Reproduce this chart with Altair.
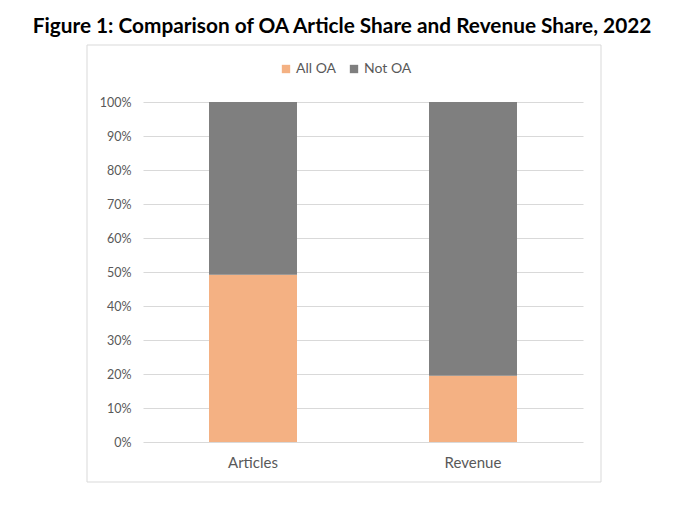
import altair as alt
import pandas as pd

categories = ["Articles", "Revenue"]
series = ["All OA", "Not OA"]
all_oa = [0.492, 0.195]
not_oa = [0.508, 0.805]
colors = ["#F4B183", "#7F7F7F"]

rows = []
for i, c in enumerate(categories):
    rows.append({"cat": c, "series": "All OA", "value": all_oa[i], "ord": 0})
    rows.append({"cat": c, "series": "Not OA", "value": not_oa[i], "ord": 1})
df = pd.DataFrame(rows)

FONT = "Lato"

border = alt.Chart(pd.DataFrame({"a": [0]})).mark_rect(
    fill=None, stroke="#D9D9D9", strokeWidth=1, clip=False
).encode(
    x=alt.value(-56), x2=alt.value(458), y=alt.value(-57), y2=alt.value(380)
)

bars = alt.Chart(df).mark_bar(size=88).encode(
    x=alt.X("cat:N", sort=categories, title=None,
            scale=alt.Scale(paddingInner=0, paddingOuter=0),
            axis=alt.Axis(labelAngle=0, domain=False, ticks=False, labelPadding=13,
                          labelFontSize=15, labelColor="#595959", labelFont=FONT)),
    y=alt.Y("value:Q", stack="zero", title=None,
            scale=alt.Scale(domain=[0, 1], nice=False),
            axis=alt.Axis(format=".0%", values=[i / 10 for i in range(11)],
                          domain=False, ticks=False, labelPadding=12,
                          labelFontSize=12.5, labelColor="#595959", labelFont=FONT,
                          gridColor="#D9D9D9", gridWidth=1)),
    color=alt.Color("series:N", scale=alt.Scale(domain=series, range=colors),
                    legend=alt.Legend(title=None, orient="none", direction="horizontal",
                                      legendX=136, legendY=-40, symbolType="square",
                                      symbolSize=70, symbolStrokeWidth=0,
                                      labelFontSize=14, labelColor="#595959",
                                      labelFont=FONT, columnPadding=10, labelOffset=3)),
    order=alt.Order("ord:Q"),
)

chart = alt.layer(border, bars).properties(
    width=440, height=340,
    padding={"left": 135, "top": 94, "right": 100, "bottom": 60},
    autosize=alt.AutoSizeParams(type="none"),
    title=alt.TitleParams(
        "Figure 1: Comparison of OA Article Share and Revenue Share, 2022",
        font=FONT, fontSize=20.8, fontWeight="bold", color="#000000",
        anchor="middle", dx=-21, offset=7,
    ),
).configure_view(stroke=None)

chart.save("out.html", embed_options={"renderer": "svg", "actions": False})
